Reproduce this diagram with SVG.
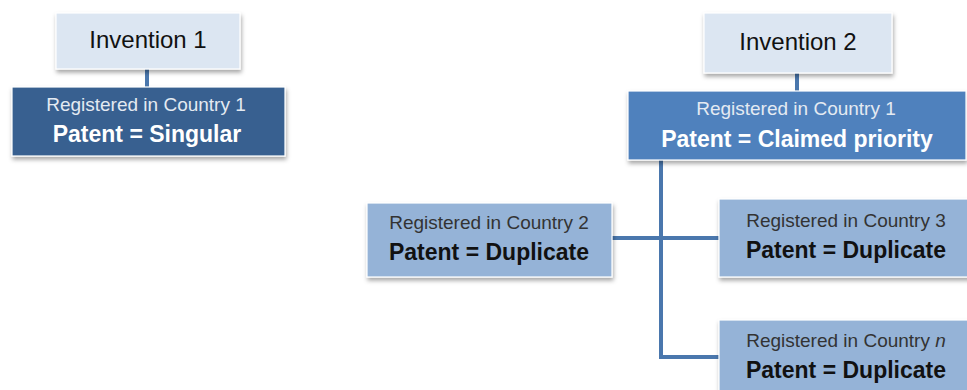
<svg xmlns="http://www.w3.org/2000/svg" width="967" height="390" viewBox="0 0 967 390">
<defs>
<filter id="sh" x="-10%" y="-10%" width="130%" height="140%">
<feDropShadow dx="1" dy="3" stdDeviation="2" flood-color="#000" flood-opacity="0.35"/>
</filter>
<style>
.box{stroke:#ffffff;stroke-width:1.2;filter:url(#sh)}
.inv{fill:#dce6f2}
.dark1{fill:#386190}
.dark2{fill:#4f81bd}
.light{fill:#95b3d7}
text{font-family:"Liberation Sans",Arial,sans-serif;text-anchor:middle}
.t1{font-size:24px;fill:#111}
.reg{font-size:19px}
.pat{font-size:23px;font-weight:bold}
.w{fill:#ffffff}
.wr{fill:#e4eaf2}
.d{fill:#111}
.dr{fill:#333}
.conn{stroke:#4a77ad;stroke-width:4;fill:none}
</style>
</defs>
<rect width="967" height="390" fill="#ffffff"/>
<g id="connectors">
<line class="conn" x1="147" y1="68" x2="147" y2="88"/>
<line class="conn" x1="797" y1="72" x2="797" y2="92"/>
<polyline class="conn" points="661,159 661,357 720,357"/>
<line class="conn" x1="611" y1="238" x2="720" y2="238"/>
</g>
<g id="invention1">
<rect class="box inv" x="56" y="13" width="184" height="56"/>
<text class="t1" x="148" y="48">Invention 1</text>
</g>
<g id="country1a">
<rect class="box dark1" x="12" y="87" width="273" height="69"/>
<text class="reg wr" x="146" y="111">Registered in Country 1</text>
<text class="pat w" x="147" y="142">Patent = Singular</text>
</g>
<g id="invention2">
<rect class="box inv" x="704" y="13" width="188" height="60"/>
<text class="t1" x="798" y="50">Invention 2</text>
</g>
<g id="country1b">
<rect class="box dark2" x="628" y="91" width="338" height="69"/>
<text class="reg wr" x="796" y="115">Registered in Country 1</text>
<text class="pat w" x="797" y="147">Patent = Claimed priority</text>
</g>
<g id="country2">
<rect class="box light" x="367" y="203" width="245" height="74"/>
<text class="reg dr" x="489" y="229">Registered in Country 2</text>
<text class="pat d" x="489" y="260">Patent = Duplicate</text>
</g>
<g id="country3">
<rect class="box light" x="719" y="199" width="254" height="78"/>
<text class="reg dr" x="846" y="227">Registered in Country 3</text>
<text class="pat d" x="846" y="258">Patent = Duplicate</text>
</g>
<g id="countryn">
<rect class="box light" x="719" y="320" width="254" height="80"/>
<text class="reg dr" x="846" y="347">Registered in Country <tspan font-style="italic">n</tspan></text>
<text class="pat d" x="846" y="378">Patent = Duplicate</text>
</g>
</svg>
